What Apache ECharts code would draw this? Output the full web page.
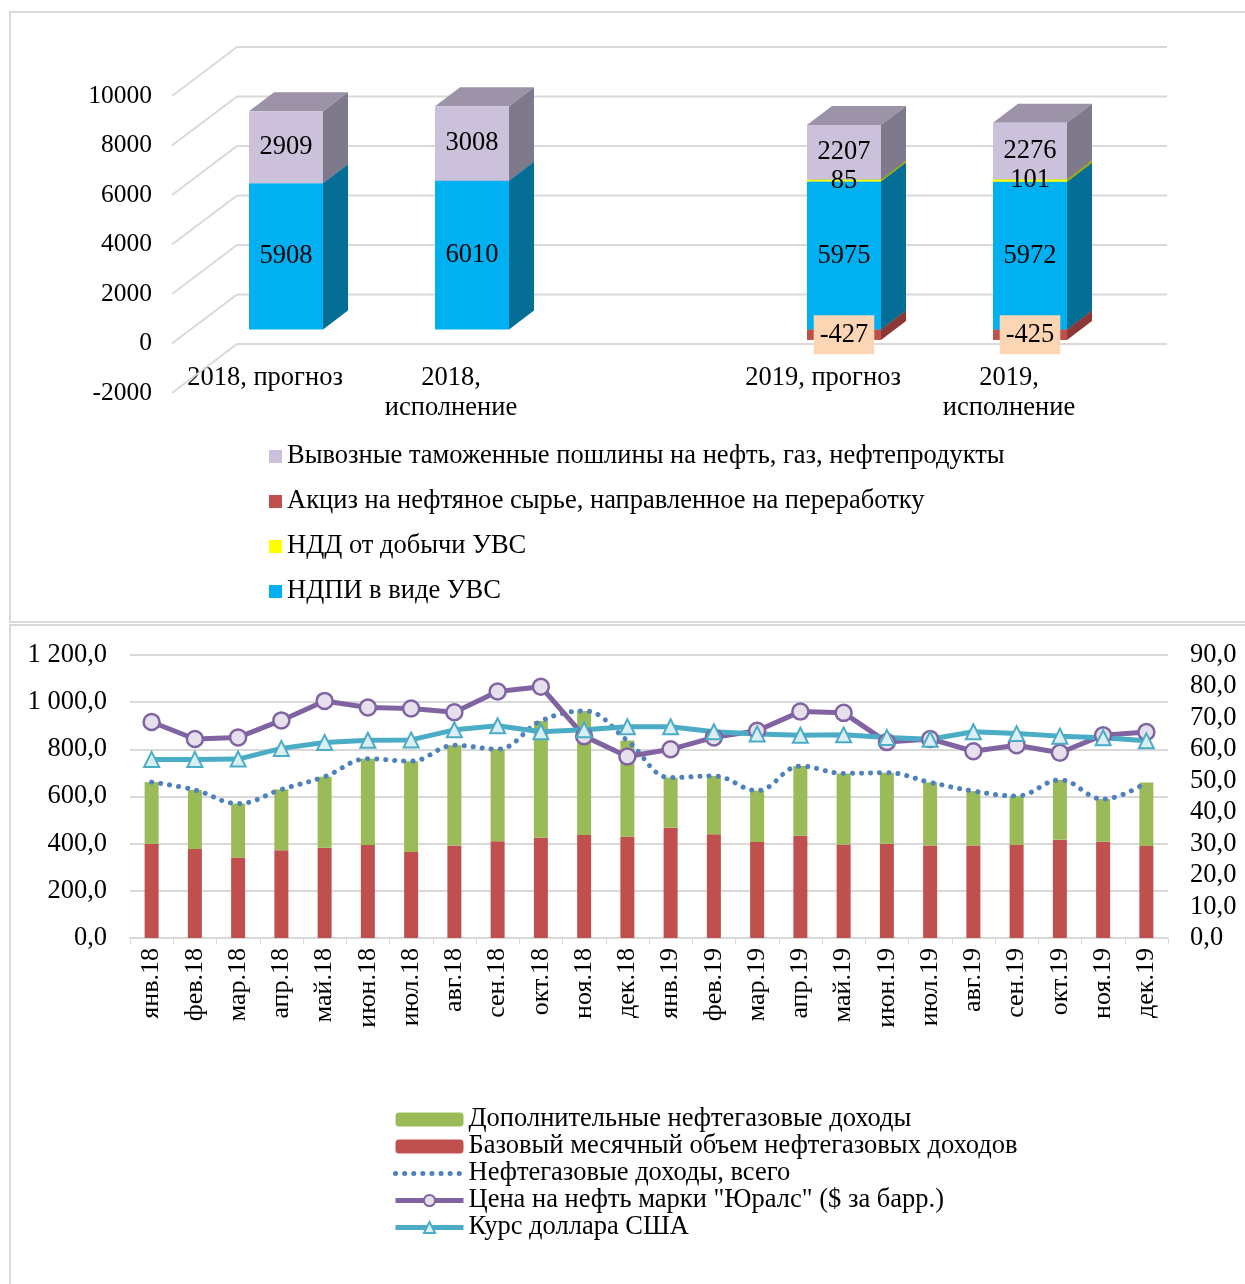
<!DOCTYPE html>
<html>
<head>
<meta charset="utf-8">
<title>Нефтегазовые доходы</title>
<script src="https://cdn.jsdelivr.net/npm/echarts@6/dist/echarts.min.js"></script>
<style>
html, body { margin: 0; padding: 0; background: #fff; }
#main { width: 1245px; height: 1284px; }
</style>
</head>
<body>
<div id="main"></div>
<script>
// верхний график (3D-столбцы)
var topCategories = ['2018, прогноз', '2018,\nисполнение', '', '2019, прогноз', '2019,\nисполнение'];
var topTicks = [-2000, 0, 2000, 4000, 6000, 8000, 10000];
var exciseValues = [null, null, null, -427, -425];
var ndpiValues = [5908, 6010, null, 5975, 5972];
var nddValues = [null, null, null, 85, 101];
var exportValues = [2909, 3008, null, 2207, 2276];

// нижний график, по месяцам
var months = ['янв.18', 'фев.18', 'мар.18', 'апр.18', 'май.18', 'июн.18', 'июл.18', 'авг.18', 'сен.18', 'окт.18', 'ноя.18', 'дек.18',
    'янв.19', 'фев.19', 'мар.19', 'апр.19', 'май.19', 'июн.19', 'июл.19', 'авг.19', 'сен.19', 'окт.19', 'ноя.19', 'дек.19'];
var baseIncome = [399, 377, 341, 372, 383, 394, 365, 392, 410, 425, 437, 430, 468, 440, 407, 434, 396, 400, 392, 392, 396, 417, 408, 390];
var extraIncome = [262, 251, 229, 258, 301, 366, 385, 425, 391, 495, 526, 407, 212, 247, 218, 295, 302, 301, 268, 231, 206, 253, 181, 269];
var totalIncome = [661, 628, 570, 630, 684, 760, 750, 817, 801, 920, 963, 837, 680, 687, 625, 729, 698, 701, 660, 623, 602, 670, 589, 659];
var uralsPrice = [68.7, 63.3, 63.8, 69.2, 75.4, 73.3, 73.0, 71.8, 78.4, 79.9, 64.2, 57.7, 60.0, 63.8, 65.9, 72.0, 71.6, 62.3, 63.3, 59.4, 61.3, 58.9, 64.5, 65.5];
var usdRate = [56.8, 56.8, 56.9, 60.3, 62.2, 62.9, 63.0, 66.2, 67.5, 65.6, 66.2, 67.2, 67.2, 65.6, 64.9, 64.5, 64.6, 63.8, 63.2, 65.6, 65.0, 64.2, 63.7, 62.7];

var serif = 'Liberation Serif';
var gridGray = '#D9D9D9';
var fs = 26.5;

var stackOrder = [exciseValues, ndpiValues, nddValues, exportValues];

// основание столбца в стопке (отрицательные вниз от нуля)
function stackBase(k, i) {
    var v = stackOrder[k][i], b = 0;
    for (var j = 0; j < k; j++) {
        var w = stackOrder[j][i];
        if (w != null && (w < 0) === (v < 0)) b += w;
    }
    return b;
}

function boxData(k) {
    var out = [];
    for (var i = 0; i < stackOrder[k].length; i++) {
        if (stackOrder[k][i] != null) out.push([i, stackOrder[k][i], stackBase(k, i)]);
    }
    return out;
}

function makeBoxRender(colors, labelBg) {
    return function (params, api) {
        var ci = api.value(0), v = api.value(1), b = api.value(2);
        var p0 = api.coord([ci, b]);
        var p1 = api.coord([ci, b + v]);
        var cx = p0[0] + 21, hw = 37, dx = 25, dy = 19, lift = 14;
        var yb = p0[1] - lift, yt = p1[1] - lift;
        if (yt > yb) { var t = yt; yt = yb; yb = t; }
        var xl = cx - hw, xr = cx + hw;
        var label = {
            type: 'text',
            z2: 100,
            style: {
                text: String(v),
                x: cx,
                y: (yt + yb) / 2,
                align: 'center',
                verticalAlign: 'middle',
                fontSize: fs,
                fontFamily: serif,
                fill: '#000'
            }
        };
        if (labelBg) {
            label.style.backgroundColor = labelBg;
            label.style.padding = [6, 6, 6, 6];
        }
        return {
            type: 'group',
            children: [
                { type: 'polygon', shape: { points: [[xl, yt], [xr, yt], [xr + dx, yt - dy], [xl + dx, yt - dy]] }, style: { fill: colors[2] } },
                { type: 'polygon', shape: { points: [[xr, yb], [xr + dx, yb - dy], [xr + dx, yt - dy], [xr, yt]] }, style: { fill: colors[1] } },
                { type: 'rect', shape: { x: xl, y: yt, width: hw * 2, height: yb - yt }, style: { fill: colors[0] } },
                label
            ]
        };
    };
}

// сетка на задней стенке и диагонали боковой стенки
function renderWall(params, api) {
    var y = api.coord([0, api.value(1)])[1];
    var cs = params.coordSys;
    var x0 = cs.x, x1 = cs.x + cs.width;
    var st = { stroke: gridGray, lineWidth: 2 };
    return {
        type: 'group',
        children: [
            { type: 'line', shape: { x1: x0, y1: y, x2: x0 + 65, y2: y - 49 }, style: st },
            { type: 'line', shape: { x1: x0 + 65, y1: y - 49, x2: x1 + 65, y2: y - 49 }, style: st }
        ]
    };
}

function fmtRub(v) {
    var s = v.toFixed(1).replace('.', ',');
    if (v >= 1000) s = s.slice(0, s.length - 5) + ' ' + s.slice(s.length - 5);
    return s;
}

var legendText = { fontSize: fs, lineHeight: 24, color: '#000', fontFamily: serif };

var chart = echarts.init(document.getElementById('main'));

var option = {
    animation: false,
    textStyle: { fontFamily: serif },
    graphic: [
        { type: 'rect', shape: { x: 10, y: 12, width: 1245, height: 610 }, style: { fill: 'none', stroke: gridGray, lineWidth: 2 }, silent: true },
        { type: 'rect', shape: { x: 10, y: 625, width: 1245, height: 680 }, style: { fill: 'none', stroke: gridGray, lineWidth: 2 }, silent: true }
    ],
    legend: [
        {
            data: ['Вывозные таможенные пошлины на нефть, газ, нефтепродукты', 'Акциз на нефтяное сырье, направленное на переработку', 'НДД от добычи УВС', 'НДПИ в виде УВС'],
            orient: 'vertical',
            left: 264,
            top: 438,
            icon: 'rect',
            itemWidth: 13,
            itemHeight: 13,
            itemGap: 18,
            selectedMode: false,
            textStyle: legendText
        },
        {
            data: [
                'Дополнительные нефтегазовые доходы',
                'Базовый месячный объем нефтегазовых доходов',
                { name: 'Нефтегазовые доходы, всего', itemStyle: { color: 'transparent', borderColor: 'transparent', opacity: 0 } },
                'Цена на нефть марки "Юралс" ($ за барр.)',
                'Курс доллара США'
            ],
            orient: 'vertical',
            left: 388,
            top: 1101,
            itemWidth: 68,
            itemHeight: 14,
            itemGap: 0,
            selectedMode: false,
            lineStyle: { width: 'inherit' },
            textStyle: legendText
        }
    ],
    grid: [
        { left: 172, top: 96, width: 930, height: 297 },
        { left: 130, top: 655, width: 1038, height: 283 }
    ],
    xAxis: [
        {
            type: 'category',
            gridIndex: 0,
            data: topCategories,
            axisLine: { show: false },
            axisTick: { show: false },
            // подписи стоят на уровне пола (ноль), а не у нижнего края
            axisLabel: { interval: 0, margin: -30, fontSize: fs, lineHeight: 30, color: '#000', fontFamily: serif }
        },
        {
            type: 'category',
            gridIndex: 1,
            data: months,
            axisLine: { lineStyle: { color: gridGray, width: 2 } },
            axisTick: { show: true, interval: 0, length: 6, lineStyle: { color: gridGray } },
            axisLabel: { interval: 0, rotate: 90, margin: 10, fontSize: 26, color: '#000', fontFamily: serif }
        }
    ],
    yAxis: [
        {
            type: 'value',
            gridIndex: 0,
            min: -2000,
            max: 10000,
            interval: 2000,
            splitLine: { show: false },
            axisLine: { show: false },
            axisLabel: { margin: 20, fontSize: 25.5, color: '#000', fontFamily: serif, formatter: function (v) { return String(v); } }
        },
        {
            type: 'value',
            gridIndex: 1,
            min: 0,
            max: 1200,
            interval: 200,
            splitLine: { lineStyle: { color: gridGray, width: 2 } },
            axisLine: { show: false },
            axisLabel: { margin: 23, fontSize: fs, color: '#000', fontFamily: serif, formatter: fmtRub }
        },
        {
            type: 'value',
            gridIndex: 1,
            position: 'right',
            min: 0,
            max: 90,
            interval: 10,
            splitLine: { show: false },
            axisLine: { show: false },
            axisLabel: { margin: 22, fontSize: fs, color: '#000', fontFamily: serif, formatter: function (v) { return v.toFixed(1).replace('.', ','); } }
        }
    ],
    series: [
        {
            type: 'custom',
            name: 'wall',
            xAxisIndex: 0,
            yAxisIndex: 0,
            silent: true,
            z: 1,
            data: topTicks.map(function (v) { return [0, v]; }),
            renderItem: renderWall
        },
        {
            type: 'custom',
            name: 'Акциз на нефтяное сырье, направленное на переработку',
            xAxisIndex: 0,
            yAxisIndex: 0,
            silent: true,
            itemStyle: { color: '#C0504D' },
            data: boxData(0),
            renderItem: makeBoxRender(['#C0504D', '#8B3836', '#A4423F'], '#FCD5B4')
        },
        {
            type: 'custom',
            name: 'НДПИ в виде УВС',
            xAxisIndex: 0,
            yAxisIndex: 0,
            silent: true,
            itemStyle: { color: '#00B0F0' },
            data: boxData(1),
            renderItem: makeBoxRender(['#00B0F0', '#046E96', '#0090C6'])
        },
        {
            type: 'custom',
            name: 'НДД от добычи УВС',
            xAxisIndex: 0,
            yAxisIndex: 0,
            silent: true,
            itemStyle: { color: '#FFFF00' },
            data: boxData(2),
            renderItem: makeBoxRender(['#FFFF00', '#A8A800', '#D6D600'])
        },
        {
            type: 'custom',
            name: 'Вывозные таможенные пошлины на нефть, газ, нефтепродукты',
            xAxisIndex: 0,
            yAxisIndex: 0,
            silent: true,
            itemStyle: { color: '#CCC1DA' },
            data: boxData(3),
            renderItem: makeBoxRender(['#CCC1DA', '#7F798C', '#9D93A9'])
        },
        {
            type: 'bar',
            name: 'Базовый месячный объем нефтегазовых доходов',
            xAxisIndex: 1,
            yAxisIndex: 1,
            stack: 'income',
            barWidth: 14,
            itemStyle: { color: '#C0504D' },
            data: baseIncome
        },
        {
            type: 'bar',
            name: 'Дополнительные нефтегазовые доходы',
            xAxisIndex: 1,
            yAxisIndex: 1,
            stack: 'income',
            barWidth: 14,
            itemStyle: { color: '#9BBB59' },
            data: extraIncome
        },
        {
            type: 'line',
            name: 'Нефтегазовые доходы, всего',
            xAxisIndex: 1,
            yAxisIndex: 1,
            smooth: 0.4,
            symbol: 'none',
            itemStyle: { color: '#4F81BD' },
            lineStyle: { color: '#4F81BD', width: 5, type: [0.1, 9], cap: 'round' },
            data: totalIncome
        },
        {
            type: 'line',
            name: 'Цена на нефть марки "Юралс" ($ за барр.)',
            xAxisIndex: 1,
            yAxisIndex: 2,
            symbol: 'circle',
            symbolSize: 16,
            itemStyle: { color: '#E6E0EC', borderColor: '#8064A2', borderWidth: 2.5 },
            lineStyle: { color: '#8064A2', width: 5 },
            data: uralsPrice
        },
        {
            type: 'line',
            name: 'Курс доллара США',
            xAxisIndex: 1,
            yAxisIndex: 2,
            symbol: 'triangle',
            symbolSize: 15,
            itemStyle: { color: '#DAEEF3', borderColor: '#4BACC6', borderWidth: 2 },
            lineStyle: { color: '#4BACC6', width: 5 },
            data: usdRate
        }
    ]
};

chart.setOption(option);
</script>
</body>
</html>
